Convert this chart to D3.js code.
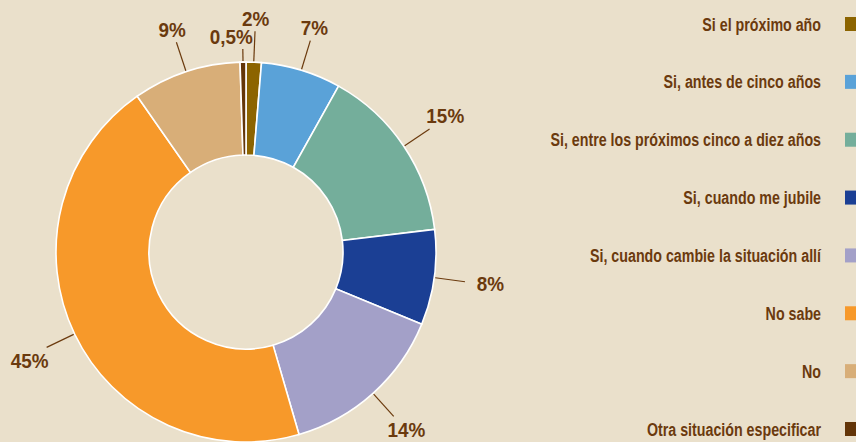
<!DOCTYPE html>
<html lang="es">
<head>
<meta charset="utf-8">
<title>Intención de regreso</title>
<script src="https://d3js.org/d3.v7.min.js"></script>
<style>
body { margin: 0; background: #eae0cb; }
svg { display: block; }
text { font-family: "Liberation Sans", Arial, sans-serif; font-weight: bold; fill: #6b3a0e; }
</style>
</head>
<body>
<div id="chart"></div>
<script>
// categories, in clockwise order starting at 12 o'clock
var categories = [
  "Si el próximo año",
  "Si, antes de cinco años",
  "Si, entre los próximos cinco a diez años",
  "Si, cuando me jubile",
  "Si, cuando cambie la situación allí",
  "No sabe",
  "No",
  "Otra situación especificar"
];
// slice shares
var shares = [1.3, 6.8, 15, 8.1, 14.3, 44.8, 9.2, 0.5];
// printed labels
var pctLabels = ["2%", "7%", "15%", "8%", "14%", "45%", "9%", "0,5%"];
var colors = ["#8c6400", "#5aa2d8", "#74ae9b", "#1b3f94", "#a3a0c8", "#f7992a", "#d8ae78", "#633508"];

var W = 856, H = 442;
var cx = 246, cy = 252, R = 190, r0 = 97;
// no condensed face installed, so squeeze the bold sans horizontally
var labelSquash = 0.9, legendSquash = 0.77;

var svg = d3.select("#chart").append("svg")
  .attr("width", W)
  .attr("height", H);

var data = categories.map(function(c, i) {
  return { name: c, value: shares[i], label: pctLabels[i], color: colors[i] };
});

var pie = d3.pie().sort(null).value(function(d) { return d.value; });
var arc = d3.arc().innerRadius(r0).outerRadius(R);
var arcs = pie(data);

var g = svg.append("g").attr("transform", "translate(" + cx + "," + cy + ")");

g.selectAll("path.slice")
  .data(arcs)
  .enter()
  .append("path")
    .attr("class", "slice")
    .attr("d", arc)
    .attr("fill", function(d) { return d.data.color; })
    .attr("stroke", "#ffffff")
    .attr("stroke-width", 1.6);

// leader lines + percentage labels
arcs.forEach(function(a) {
  var mid = (a.startAngle + a.endAngle) / 2;
  var s = Math.sin(mid), c = -Math.cos(mid);
  var tiny = a.data.value < 1;
  var rEnd = tiny ? 203 : 221;
  var x1 = s * (R + 1), y1 = c * (R + 1);
  var x2 = s * rEnd, y2 = c * rEnd;

  g.append("line")
    .attr("x1", x1).attr("y1", y1)
    .attr("x2", x2).attr("y2", y2)
    .attr("stroke", "#6b3a0e")
    .attr("stroke-width", 1.2);

  var t = g.append("text")
    .attr("font-size", 21)
    .attr("text-anchor", "middle")
    .text(a.data.label);
  var w = t.node().getComputedTextLength() * labelSquash;
  var tx, ty;
  if (tiny) {
    // squeezed next to its neighbour, pushed to the left
    tx = x2 + 10 - w / 2;
    ty = y2 - 12.5;
  } else {
    tx = x2 + s * w / 2 + (Math.abs(c) < 0.3 ? s * 12 : 0);
    ty = y2 + (Math.abs(c) > 0.3 ? Math.sign(c) * 13 : c * 13);
  }
  t.attr("transform", "translate(" + tx + "," + (ty + 7.5) + ") scale(" + labelSquash + ",1)");
});

// legend on the right
var ly = d3.scalePoint()
  .domain(categories)
  .range([24, 429]);

var legend = svg.selectAll("g.leg")
  .data(data)
  .enter()
  .append("g")
    .attr("class", "leg")
    .attr("transform", function(d) { return "translate(0," + ly(d.name) + ")"; });

legend.append("rect")
  .attr("x", 845)
  .attr("y", -7)
  .attr("width", 14)
  .attr("height", 14)
  .attr("fill", function(d) { return d.color; });

legend.append("text")
  .attr("transform", "translate(821,6.5) scale(" + legendSquash + ",1)")
  .attr("text-anchor", "end")
  .attr("font-size", 18.5)
  .text(function(d) { return d.name; });
</script>
</body>
</html>
